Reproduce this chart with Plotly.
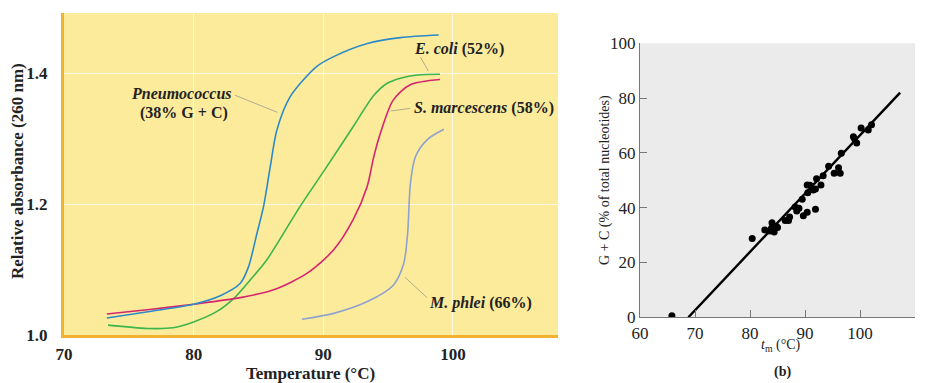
import plotly.graph_objects as go

# ---- Panel (a): melting curves ----
pneumo_t = [73.3, 76.6, 80.0, 82.05, 83.6, 84.23, 84.88, 85.39, 85.91, 86.42, 87.45, 89.5, 90.8, 93.4, 95.95, 98.9]
pneumo_a = [1.026, 1.036, 1.047, 1.060, 1.079, 1.104, 1.155, 1.196, 1.257, 1.313, 1.364, 1.410, 1.425, 1.445, 1.454, 1.458]

ecoli_t = [73.4, 76.4, 78.4, 80.0, 81.8, 83.1, 84.36, 85.65, 88.2, 90.27, 92.3, 93.9, 94.9, 95.95, 97.24, 99.0]
ecoli_a = [1.015, 1.010, 1.011, 1.020, 1.036, 1.056, 1.084, 1.115, 1.196, 1.257, 1.318, 1.366, 1.384, 1.392, 1.397, 1.398]

smarc_t = [73.3, 76.6, 80.0, 83.6, 86.16, 88.73, 90.8, 92.3, 93.37, 93.89, 94.4, 95.4, 96.7, 99.0]
smarc_a = [1.032, 1.039, 1.047, 1.057, 1.069, 1.094, 1.130, 1.176, 1.226, 1.272, 1.308, 1.359, 1.382, 1.390]

mphlei_t = [88.35, 90.8, 93.4, 95.4, 96.2, 96.5, 96.72, 97.1, 98.0, 99.3]
mphlei_a = [1.024, 1.033, 1.051, 1.076, 1.109, 1.155, 1.232, 1.272, 1.298, 1.314]

temp_ticks = [70, 80, 90, 100]
abs_ticks = [1.0, 1.2, 1.4]

# ---- Panel (b): G+C vs tm ----
tm_values = [65.8, 80.4, 82.7, 83.6, 84.0, 84.4, 84.8, 83.9, 85.0, 86.4, 87.0, 87.2, 88.2, 88.5, 88.9,
             89.5, 89.7, 90.4, 90.4, 90.5, 90.9, 91.5, 91.9, 91.9, 92.1, 92.9, 93.3, 94.3, 95.3, 96.1,
             96.4, 96.6, 98.8, 99.0, 99.4, 100.2, 101.5, 102.1]
gc_values = [0.6, 28.8, 31.9, 31.5, 34.5, 31.1, 33.1, 32.5, 32.8, 35.3, 35.3, 36.6, 40.3, 38.8, 39.8,
             43.1, 37.1, 38.3, 48.3, 45.5, 48.2, 46.5, 46.8, 39.4, 50.6, 48.3, 51.7, 55.1, 52.6, 54.6,
             52.6, 59.9, 65.9, 65.2, 63.6, 69.1, 68.4, 70.3]
fit_t = [68.8, 107.3]
fit_gc = [0.0, 82.0]
tm_ticks = [60, 70, 80, 90, 100, 110]
gc_ticks = [0, 20, 40, 60, 80, 100]

SERIF = "Liberation Serif"

# page body has an 8px margin: offset the figure so it lands where the reference is
OFF = 8
W, H = 925 - OFF, 383 - OFF


def px(x):
    return (x - OFF) / W


def py(y):
    return 1 - (y - OFF) / H


fig = go.Figure()


def curve(x, y, color):
    fig.add_trace(go.Scatter(x=x, y=y, mode="lines", xaxis="x", yaxis="y",
                             line=dict(color=color, width=1.6, shape="spline", smoothing=0.8),
                             hoverinfo="skip", showlegend=False))


curve(mphlei_t, mphlei_a, "#8fa2cf")
curve(ecoli_t, ecoli_a, "#3cb54b")
curve(smarc_t, smarc_a, "#d6256f")
curve(pneumo_t, pneumo_a, "#2b8bc8")

# leader lines (panel a)
leaders = [
    ([83.2, 86.45], [1.366, 1.340]),
    ([97.5, 98.1], [1.424, 1.403]),
    ([95.2, 96.7], [1.342, 1.346]),
    ([96.3, 98.0], [1.088, 1.057]),
]
for lx, ly in leaders:
    fig.add_trace(go.Scatter(x=lx, y=ly, mode="lines", xaxis="x", yaxis="y",
                             line=dict(color="#9a9a8a", width=0.8), hoverinfo="skip", showlegend=False))

# panel b
fig.add_trace(go.Scatter(x=fit_t, y=fit_gc, mode="lines", xaxis="x2", yaxis="y2",
                         line=dict(color="black", width=2.4), hoverinfo="skip", showlegend=False))
fig.add_trace(go.Scatter(x=tm_values, y=gc_values, mode="markers", xaxis="x2", yaxis="y2",
                         marker=dict(color="black", size=7), hoverinfo="skip", showlegend=False))

lab_font = dict(family=SERIF, size=16, color="#222")
annotations = [
    dict(x=83.1, y=1.369, xref="x", yref="y", xanchor="right", yanchor="middle",
         text="<b><i>Pneumococcus</i></b>", showarrow=False, font=lab_font),
    dict(x=75.7, y=1.339, xref="x", yref="y", xanchor="left", yanchor="middle",
         text="<b>(38% G + C)</b>", showarrow=False, font=lab_font),
    dict(x=96.87, y=1.4366, xref="x", yref="y", xanchor="left", yanchor="middle",
         text="<b><i>E. coli</i> (52%)</b>", showarrow=False, font=lab_font),
    dict(x=96.85, y=1.3466, xref="x", yref="y", xanchor="left", yanchor="middle",
         text="<b><i>S. marcescens</i> (58%)</b>", showarrow=False, font=lab_font),
    dict(x=98.03, y=1.0489, xref="x", yref="y", xanchor="left", yanchor="middle",
         text="<b><i>M. phlei</i> (66%)</b>", showarrow=False, font=lab_font),
    dict(x=px(17), y=py(171), xref="paper", yref="paper", xanchor="center", yanchor="middle",
         text="<b>Relative absorbance (260 nm)</b>", textangle=-90, showarrow=False,
         font=dict(family=SERIF, size=17, color="#222")),
    dict(x=px(310), y=py(373), xref="paper", yref="paper", xanchor="center", yanchor="middle",
         text="<b>Temperature (°C)</b>", showarrow=False,
         font=dict(family=SERIF, size=17, color="#222")),
    dict(x=px(605), y=py(180), xref="paper", yref="paper", xanchor="center", yanchor="middle",
         text="G + C (% of total nucleotides)", textangle=-90, showarrow=False,
         font=dict(family=SERIF, size=14, color="#222")),
    dict(x=px(781), y=py(345), xref="paper", yref="paper", xanchor="center", yanchor="middle",
         text="<i>t</i><sub>m</sub> (°C)", showarrow=False,
         font=dict(family=SERIF, size=14, color="#222")),
    dict(x=px(782), y=py(372), xref="paper", yref="paper", xanchor="center", yanchor="middle",
         text="<b>(b)</b>", showarrow=False,
         font=dict(family=SERIF, size=14, color="#222")),
]

shapes = [
    dict(type="rect", xref="x domain", yref="y domain", x0=0, x1=1, y0=0, y1=1,
         fillcolor="#fdeb9c", line=dict(width=0), layer="below"),
    dict(type="rect", xref="x2 domain", yref="y2 domain", x0=0, x1=1, y0=0, y1=1,
         fillcolor="#ebebeb", line=dict(width=0), layer="below"),
]

fig.update_layout(
    width=W, height=H,
    margin=dict(l=0, r=0, t=0, b=0, pad=0),
    paper_bgcolor="white", plot_bgcolor="rgba(0,0,0,0)",
    showlegend=False,
    shapes=shapes, annotations=annotations,
    xaxis=dict(domain=[px(64), px(558)], range=[70, 108.1], anchor="y", automargin=False,
               tickvals=temp_ticks, ticktext=[str(v) for v in temp_ticks],
               showgrid=True, gridcolor="rgba(255,255,255,0.75)", gridwidth=1,
               showline=True, linecolor="#f1b232", linewidth=3, zeroline=False,
               ticks="outside", ticklen=2, tickcolor="rgba(0,0,0,0)",
               tickfont=dict(family=SERIF, size=17, color="#222", weight="bold")),
    yaxis=dict(domain=[py(335), py(13)], range=[1.0, 1.4916], anchor="x", automargin=False,
               tickvals=abs_ticks, ticktext=["1.0", "1.2", "1.4"],
               showgrid=True, gridcolor="rgba(255,255,255,0.75)", gridwidth=1,
               showline=True, linecolor="#f1b232", linewidth=3, zeroline=False,
               ticks="outside", ticklen=10, tickcolor="rgba(0,0,0,0)",
               tickfont=dict(family=SERIF, size=17, color="#222", weight="bold")),
    xaxis2=dict(domain=[px(640), px(915)], range=[60, 110], anchor="y2", automargin=False,
                tickvals=tm_ticks, showgrid=False, zeroline=False,
                showline=True, linecolor="#777", linewidth=1,
                ticks="inside", ticklen=7, tickcolor="#777",
                tickfont=dict(family=SERIF, size=17, color="#222")),
    yaxis2=dict(domain=[py(317.3), py(43.3)], range=[0, 100], anchor="x2", automargin=False,
                tickvals=gc_ticks, showgrid=False, zeroline=False,
                showline=True, linecolor="#777", linewidth=1,
                ticks="inside", ticklen=7, tickcolor="#777",
                tickfont=dict(family=SERIF, size=17, color="#222")),
)

fig.write_html("out.html")
